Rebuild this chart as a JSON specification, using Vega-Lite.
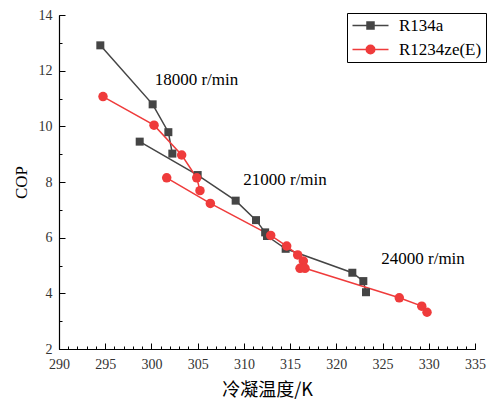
{
  "$schema": "https://vega.github.io/schema/vega-lite/v6.json",
  "width": 416,
  "height": 334,
  "autosize": {"type": "none"},
  "padding": {"left": 59, "top": 15, "right": 14, "bottom": 51},
  "background": "white",
  "config": {"view": {"stroke": null}, "font": "Liberation Serif"},
  "data": {
    "values": [
      {"fluid": "R134a", "speed": "18000", "seq": 1, "T": 294.47, "COP": 12.91},
      {"fluid": "R134a", "speed": "18000", "seq": 2, "T": 300.13, "COP": 10.79},
      {"fluid": "R134a", "speed": "18000", "seq": 3, "T": 301.83, "COP": 9.79},
      {"fluid": "R134a", "speed": "18000", "seq": 4, "T": 302.26, "COP": 9.02},
      {"fluid": "R134a", "speed": "21000", "seq": 1, "T": 298.73, "COP": 9.45},
      {"fluid": "R134a", "speed": "21000", "seq": 2, "T": 305.0, "COP": 8.25},
      {"fluid": "R134a", "speed": "21000", "seq": 3, "T": 309.11, "COP": 7.33},
      {"fluid": "R134a", "speed": "21000", "seq": 4, "T": 311.31, "COP": 6.63},
      {"fluid": "R134a", "speed": "21000", "seq": 5, "T": 312.3, "COP": 6.19},
      {"fluid": "R134a", "speed": "24000", "seq": 1, "T": 312.5, "COP": 6.06},
      {"fluid": "R134a", "speed": "24000", "seq": 2, "T": 314.52, "COP": 5.6},
      {"fluid": "R134a", "speed": "24000", "seq": 3, "T": 321.73, "COP": 4.74},
      {"fluid": "R134a", "speed": "24000", "seq": 4, "T": 322.92, "COP": 4.44},
      {"fluid": "R134a", "speed": "24000", "seq": 5, "T": 323.21, "COP": 4.04},
      {"fluid": "R1234ze(E)", "speed": "18000", "seq": 1, "T": 294.76, "COP": 11.07},
      {"fluid": "R1234ze(E)", "speed": "18000", "seq": 2, "T": 300.28, "COP": 10.04},
      {"fluid": "R1234ze(E)", "speed": "18000", "seq": 3, "T": 303.27, "COP": 8.97},
      {"fluid": "R1234ze(E)", "speed": "18000", "seq": 4, "T": 304.9, "COP": 8.15},
      {"fluid": "R1234ze(E)", "speed": "18000", "seq": 5, "T": 305.25, "COP": 7.69},
      {"fluid": "R1234ze(E)", "speed": "21000", "seq": 1, "T": 301.65, "COP": 8.15},
      {"fluid": "R1234ze(E)", "speed": "21000", "seq": 2, "T": 306.37, "COP": 7.23},
      {"fluid": "R1234ze(E)", "speed": "21000", "seq": 3, "T": 312.9, "COP": 6.08},
      {"fluid": "R1234ze(E)", "speed": "21000", "seq": 4, "T": 314.63, "COP": 5.7},
      {"fluid": "R1234ze(E)", "speed": "21000", "seq": 5, "T": 315.82, "COP": 5.38},
      {"fluid": "R1234ze(E)", "speed": "21000", "seq": 6, "T": 316.43, "COP": 5.16},
      {"fluid": "R1234ze(E)", "speed": "21000", "seq": 7, "T": 316.07, "COP": 4.9},
      {"fluid": "R1234ze(E)", "speed": "24000", "seq": 1, "T": 316.61, "COP": 4.9},
      {"fluid": "R1234ze(E)", "speed": "24000", "seq": 2, "T": 326.81, "COP": 3.84},
      {"fluid": "R1234ze(E)", "speed": "24000", "seq": 3, "T": 329.24, "COP": 3.54},
      {"fluid": "R1234ze(E)", "speed": "24000", "seq": 4, "T": 329.81, "COP": 3.32}
    ]
  },
  "layer": [
    {
      "mark": {"type": "line", "strokeWidth": 1.5},
      "encoding": {
        "x": {
          "field": "T", "type": "quantitative",
          "scale": {"domain": [290, 335], "nice": false, "zero": false},
          "axis": {
            "orient": "bottom", "offset": -6, "zindex": 1,
            "values": [290, 295, 300, 305, 310, 315, 320, 325, 330, 335],
            "ticks": true, "tickSize": 6, "domain": false,
            "grid": false, "tickColor": "#000000", "tickWidth": 1, "tickOpacity": 1,
            "labelFont": "Liberation Serif", "labelFontSize": 14, "labelColor": "#333333",
            "labelPadding": 8, "labelOverlap": false, "labelFlush": false, "format": "d",
            "title": "冷凝温度/K", "titleFont": "Noto Sans CJK SC", "titleFontSize": 18,
            "titleFontWeight": "normal", "titleColor": "black", "titlePadding": 10
          }
        },
        "y": {
          "field": "COP", "type": "quantitative",
          "scale": {"domain": [2, 14], "nice": false, "zero": false},
          "axis": {
            "orient": "left", "offset": -6, "zindex": 1,
            "values": [2, 4, 6, 8, 10, 12, 14],
            "ticks": true, "tickSize": 6, "domain": false,
            "grid": false, "tickColor": "#000000", "tickWidth": 1, "tickOpacity": 1,
            "labelFont": "Liberation Serif", "labelFontSize": 14, "labelColor": "#333333",
            "labelPadding": 7, "labelOverlap": false, "labelFlush": false, "format": "d",
            "title": "COP", "titleFont": "Liberation Serif", "titleFontSize": 17,
            "titleFontWeight": "normal", "titleColor": "black", "titlePadding": 8
          }
        },
        "stroke": {
          "field": "fluid", "type": "nominal",
          "scale": {"domain": ["R134a", "R1234ze(E)"], "range": ["#454545", "#ef3b3b"]},
          "legend": {
            "orient": "none", "legendX": 288, "legendY": -2, "title": null,
            "strokeColor": "black", "fillColor": "white", "padding": 4,
            "labelFont": "Liberation Serif", "labelFontSize": 17, "labelColor": "black",
            "symbolSize": 100, "symbolStrokeWidth": 1.5, "symbolOpacity": 1, "labelOffset": 31, "rowPadding": 6
          }
        },
        "detail": {"field": "speed"},
        "order": {"field": "seq"}
      }
    },
    {
      "transform": [{"filter": "datum.fluid === 'R134a'"}],
      "mark": {"type": "point", "filled": true, "opacity": 1, "shape": "square", "size": 64},
      "encoding": {
        "x": {
          "field": "T", "type": "quantitative",
          "axis": {
            "orient": "bottom", "offset": -3, "zindex": 1,
            "values": [290,291,292,293,294,295,296,297,298,299,300,301,302,303,304,305,306,307,308,309,310,311,312,313,314,315,316,317,318,319,320,321,322,323,324,325,326,327,328,329,330,331,332,333,334,335],
            "ticks": true, "tickSize": 3, "labels": false, "domain": false, "title": null, "grid": false,
            "tickColor": "#000000", "tickWidth": 1, "tickOpacity": 1
          }
        },
        "y": {
          "field": "COP", "type": "quantitative",
          "axis": {
            "orient": "left", "offset": -3, "zindex": 1,
            "values": [2,3,4,5,6,7,8,9,10,11,12,13,14],
            "ticks": true, "tickSize": 3, "labels": false, "domain": false, "title": null, "grid": false,
            "tickColor": "#000000", "tickWidth": 1, "tickOpacity": 1
          }
        },
        "fill": {
          "field": "fluid", "type": "nominal",
          "scale": {"domain": ["R134a", "R1234ze(E)"], "range": ["#454545", "#ef3b3b"]},
          "legend": {
            "orient": "none", "legendX": 288, "legendY": -2, "title": null,
            "strokeColor": "black", "fillColor": "white", "padding": 4,
            "labelFont": "Liberation Serif", "labelFontSize": 17, "labelColor": "black",
            "symbolSize": 100, "symbolStrokeWidth": 1.5, "symbolOpacity": 1, "labelOffset": 31, "rowPadding": 6
          }
        }
      }
    },
    {
      "transform": [{"filter": "datum.fluid === 'R1234ze(E)'"}],
      "mark": {"type": "point", "filled": true, "opacity": 1, "shape": "circle", "size": 90},
      "encoding": {
        "x": {
          "field": "T", "type": "quantitative",
          "axis": {"orient": "bottom", "zindex": 1, "ticks": false, "labels": false, "title": null, "grid": false, "domain": true, "domainColor": "black", "domainWidth": 1.2}
        },
        "y": {
          "field": "COP", "type": "quantitative",
          "axis": {"orient": "left", "zindex": 1, "ticks": false, "labels": false, "title": null, "grid": false, "domain": true, "domainColor": "black", "domainWidth": 1.2}
        },
        "fill": {
          "field": "fluid", "type": "nominal",
          "legend": {
            "orient": "none", "legendX": 288, "legendY": -2, "title": null,
            "strokeColor": "black", "fillColor": "white", "padding": 4,
            "labelFont": "Liberation Serif", "labelFontSize": 17, "labelColor": "black",
            "symbolSize": 100, "symbolStrokeWidth": 1.5, "symbolOpacity": 1, "labelOffset": 31, "rowPadding": 6
          }
        }
      }
    },
    {
      "mark": {"type": "point", "filled": true, "opacity": 0, "strokeWidth": 1.5},
      "encoding": {
        "x": {"field": "T", "type": "quantitative", "axis": null},
        "y": {"field": "COP", "type": "quantitative", "axis": null},
        "shape": {
          "field": "fluid", "type": "nominal",
          "scale": {"domain": ["R134a", "R1234ze(E)"], "range": ["M-1.4,0H5.8M1.5,-0.7H2.9V0.7H1.5Z", "M-1.4,0H5.8M3.05,0A0.85,0.85,0,1,1,1.35,0A0.85,0.85,0,1,1,3.05,0Z"]},
          "legend": {
            "orient": "none", "legendX": 288, "legendY": -2, "title": null,
            "strokeColor": "black", "fillColor": "white", "padding": 4,
            "labelFont": "Liberation Serif", "labelFontSize": 17, "labelColor": "black",
            "symbolSize": 100, "symbolStrokeWidth": 1.5, "symbolOpacity": 1, "labelOffset": 31, "rowPadding": 6
          }
        }
      }
    },
    {
      "data": {
        "values": [
          {"label": "18000 r/min", "T": 304.87, "COP": 11.66},
          {"label": "21000 r/min", "T": 314.45, "COP": 8.07},
          {"label": "24000 r/min", "T": 329.38, "COP": 5.22}
        ]
      },
      "mark": {"type": "text", "font": "Liberation Serif", "fontSize": 17, "color": "black", "align": "center", "baseline": "middle"},
      "encoding": {
        "x": {"field": "T", "type": "quantitative", "axis": null},
        "y": {"field": "COP", "type": "quantitative", "axis": null},
        "text": {"field": "label", "type": "nominal"}
      }
    }
  ],
  "resolve": {"axis": {"x": "independent", "y": "independent"}}
}
